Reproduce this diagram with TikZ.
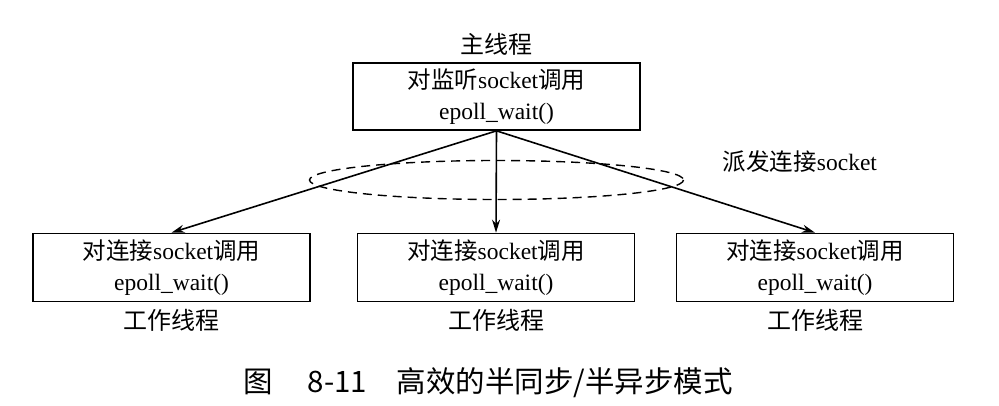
\documentclass[tikz,border=0pt]{standalone}
\usepackage{fontspec}
\setmainfont{Liberation Serif}
\newfontfamily\cjk{Noto Sans CJK SC}
\usetikzlibrary{arrows.meta}
\begin{document}
\begin{tikzpicture}[x=1pt,y=-1pt,
  box/.style={draw,line width=1.7pt,minimum width=277pt,minimum height=68pt,align=center,inner sep=0pt,font=\fontsize{23.5}{31}\selectfont},
  lbl/.style={font=\fontsize{24}{26}\selectfont\cjk},
  conn/.style={line width=1.6pt,-{Stealth[length=13pt,width=8pt]}}]
\useasboundingbox (0,0) rectangle (999,406);
\node[box,minimum width=287pt,minimum height=67pt] (top) at (496.5,96.5) {{\cjk 对监听}socket{\cjk 调用}\\epoll\_wait()};
\node[box] (l) at (171.5,267.5) {{\cjk 对连接}socket{\cjk 调用}\\epoll\_wait()};
\node[box] (m) at (496,267.5) {{\cjk 对连接}socket{\cjk 调用}\\epoll\_wait()};
\node[box] (r) at (815,267.5) {{\cjk 对连接}socket{\cjk 调用}\\epoll\_wait()};
\node[lbl] (tl) at (496.5,44) {主线程};
\node[lbl] (lw) at (171.5,320) {工作线程};
\node[lbl] (mw) at (496,320) {工作线程};
\node[lbl] (rw) at (815,320) {工作线程};
\node[font=\fontsize{23.5}{26}\selectfont] (disp) at (800,162) {{\cjk 派发连接}socket};
\draw[line width=1.4pt,dash pattern=on 9pt off 6pt] (496.5,180) ellipse (187 and 19.5);
\coordinate (s) at (top.south);
\draw[conn] (s) -- (l.north);
\draw[conn] (s) -- (m.north);
\draw[conn] (s) -- (r.north);
\node[font=\fontsize{29.5}{32}\selectfont\cjk] (cap) at (488,383) {图\hspace{1.2em}8-11\hspace{1em}高效的半同步/半异步模式};
\end{tikzpicture}
\end{document}
